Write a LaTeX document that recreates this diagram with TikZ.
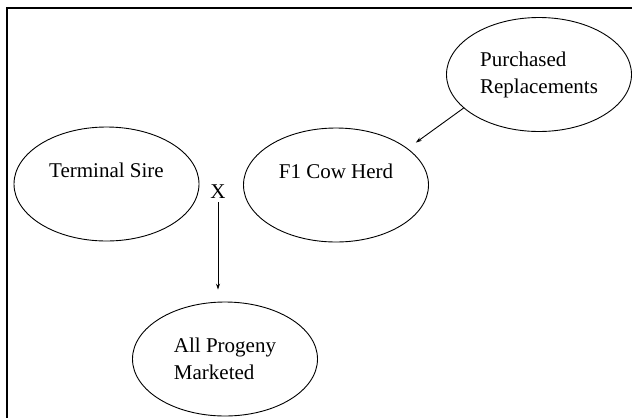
\documentclass[tikz,border=0pt]{standalone}
\usepackage{fontspec}
\setmainfont{Liberation Serif}
\usetikzlibrary{shapes.geometric,arrows.meta}
\begin{document}
\begin{tikzpicture} [x=1pt,y=-1pt,
    blob/.style={ellipse,draw,line width=0.9pt,minimum width=185pt,minimum height=114pt,inner sep=0pt,align=center,font=\fontsize{21}{27}\selectfont},
    flow/.style={line width=0.9pt,-{Stealth[length=6pt,width=4pt]}}]
\useasboundingbox (0,0) rectangle (632,418);
%frame
        \draw [ line width=1.6pt ] (632,8) -- (7,8) -- (7,418);
%herds
        \node[blob] (sire) at (106.5,184) {Terminal Sire\\~};
        \node[blob] (herd) at (336,185) {F1 Cow Herd\\~};
        \node[blob,align=left] (buy) at (539,74.5) {Purchased\\Replacements};
        \node[blob,align=left] (progeny) at (225,359) {All Progeny\\Marketed};
        \node[font=\fontsize{21}{27}\selectfont] (cross) at (218,192) {X};
%arrows
        \draw [ flow, shorten >=10pt ] (buy.204) -- (herd.27);
        \draw [ flow, shorten >=12pt ] (cross.south) -- (cross.south |- progeny.north);
    \end{tikzpicture}
\end{document}
